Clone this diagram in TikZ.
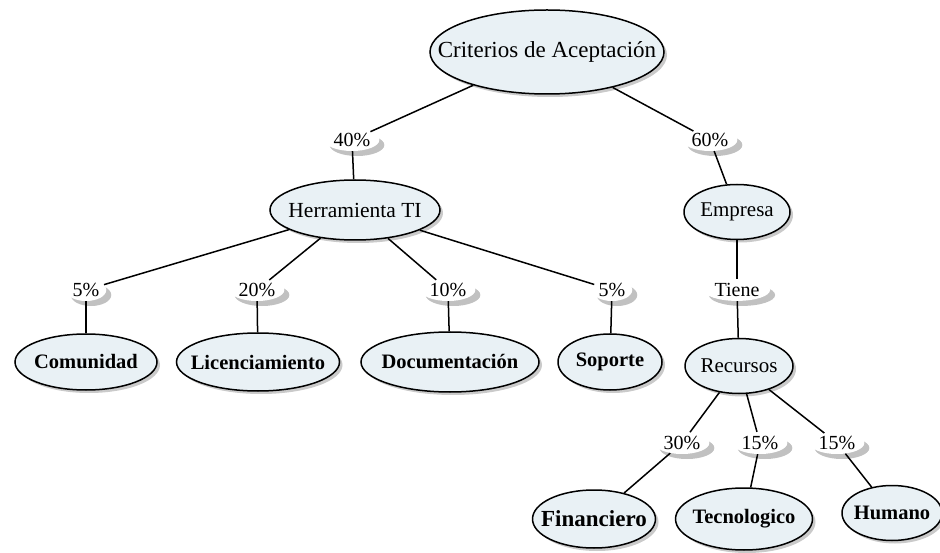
\documentclass[tikz,border=0pt]{standalone}
\usepackage{fontspec}
\setmainfont{Liberation Serif}
\usetikzlibrary{shapes.geometric,shadows}
\definecolor{nodefill}{HTML}{E9F1F5}
\newcommand{\zw}[1]{\makebox[0pt]{#1}}
\tikzset{
  concept/.style={ellipse, draw=black, line width=1.5pt, fill=nodefill, inner sep=0pt,
    drop shadow={shadow xshift=3pt, shadow yshift=-3pt, fill=black!35, opacity=0.6}},
  pct/.style={ellipse, fill=white, inner sep=1pt,
    drop shadow={shadow xshift=5pt, shadow yshift=-5pt, fill=black!35, opacity=0.7},
    font=\fontsize{20}{22}\selectfont},
  link/.style={line width=1.5pt, black},
  leaf/.style={concept, font=\fontsize{20.5}{22}\selectfont\bfseries}
}
\begin{document}
\begin{tikzpicture}[x=1pt,y=-1pt]
\useasboundingbox (0,0) rectangle (940,553);
% nodes
\node[concept, minimum width=234, minimum height=84, font=\fontsize{23}{25}\selectfont] (crit) at (547,52) {\zw{Criterios de Aceptación}};
\node[concept, minimum width=170, minimum height=60, font=\fontsize{21.5}{23}\selectfont] (herr) at (355,210) {\zw{Herramienta TI}};
\node[concept, minimum width=106, minimum height=55, font=\fontsize{21}{23}\selectfont] (emp) at (737,212) {\zw{Empresa}};
\node[concept, minimum width=108, minimum height=55, font=\fontsize{21}{23}\selectfont] (rec) at (739,366) {\zw{Recursos}};
\node[leaf, minimum width=142, minimum height=56] (com) at (86,362) {\zw{Comunidad}};
\node[leaf, minimum width=163, minimum height=58] (lic) at (258,362) {\zw{Licenciamiento}};
\node[leaf, minimum width=178, minimum height=60] (doc) at (450,362) {\zw{Documentación}};
\node[leaf, minimum width=104, minimum height=56] (sop) at (610,362) {\zw{Soporte}};
\node[leaf, minimum width=123, minimum height=58, font=\fontsize{23}{25}\selectfont\bfseries] (fin) at (594,519) {\zw{Financiero}};
\node[leaf, minimum width=137, minimum height=62] (tec) at (744,519) {\zw{Tecnologico}};
\node[leaf, minimum width=100, minimum height=55] (hum) at (892,513) {\zw{Humano}};
% percent labels
\node[pct] (p40) at (352,140) {40\%};
\node[pct] (p60) at (710,140) {60\%};
\node[pct] (p5a) at (86,290) {5\%};
\node[pct] (p20) at (257,290) {20\%};
\node[pct] (p10) at (448,290) {10\%};
\node[pct] (p5b) at (612,290) {5\%};
\node[pct] (tiene) at (737,290) {Tiene};
\node[pct] (p30) at (682,443) {30\%};
\node[pct] (p15a) at (760,443) {15\%};
\node[pct] (p15b) at (837,443) {15\%};
% connectors
\draw[link] (crit) -- (p40);
\draw[link] (crit) -- (p60);
\draw[link] (p40) -- (herr);
\draw[link] (p60) -- (emp);
\draw[link] (herr) -- (p5a);
\draw[link] (herr) -- (p20);
\draw[link] (herr) -- (p10);
\draw[link] (herr) -- (p5b);
\draw[link] (p5a) -- (com);
\draw[link] (p20) -- (lic);
\draw[link] (p10) -- (doc);
\draw[link] (p5b) -- (sop);
\draw[link] (emp) -- (tiene);
\draw[link] (tiene) -- (rec);
\draw[link] (rec) -- (p30);
\draw[link] (rec) -- (p15a);
\draw[link] (rec) -- (p15b);
\draw[link] (p30) -- (fin);
\draw[link] (p15a) -- (tec);
\draw[link] (p15b) -- (hum);
\end{tikzpicture}
\end{document}
